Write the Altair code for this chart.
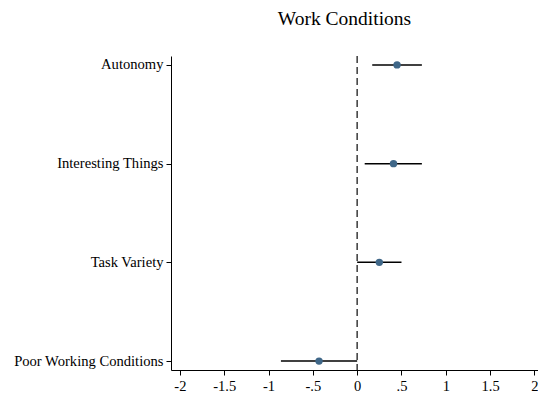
import altair as alt
import pandas as pd

categories = ["Autonomy", "Interesting Things", "Task Variety", "Poor Working Conditions"]
estimates = [0.45, 0.41, 0.25, -0.43]
ci_low = [0.17, 0.085, 0.0, -0.86]
ci_high = [0.73, 0.73, 0.50, 0.0]
x_ticks = [-2, -1.5, -1, -0.5, 0, 0.5, 1, 1.5, 2]

df = pd.DataFrame({"cat": categories, "est": estimates, "lo": ci_low, "hi": ci_high})
zero = pd.DataFrame({"z": [0]})

FONT = "Liberation Serif"

xscale = alt.Scale(domain=[-2.1, 2.04], nice=False, zero=False)
yscale = alt.Scale(type="point", padding=0.09, domain=categories)

yaxis = alt.Axis(title=None, domainColor="black", tickColor="black", tickSize=5,
                 labelFont=FONT, labelFontSize=14.6, labelColor="black", labelPadding=3,
                 labelLimit=300, grid=False, domainWidth=1)
xaxis = alt.Axis(title=None, values=x_ticks, domainColor="black", tickColor="black", tickSize=5,
                 labelFont=FONT, labelFontSize=14.5, labelColor="black", labelPadding=4,
                 grid=False, labelExpr="replace(toString(datum.value), '0.', '.')",
                 domainWidth=1)

base = alt.Chart(df)

ref = alt.Chart(zero).mark_rule(color="#3a3a3a", strokeDash=[7, 4], strokeWidth=1.5).encode(
    x=alt.X("z:Q", scale=xscale, axis=xaxis)
)

ci = base.mark_rule(color="black", strokeWidth=1.5).encode(
    x=alt.X("lo:Q", scale=xscale, axis=xaxis),
    x2="hi:Q",
    y=alt.Y("cat:N", scale=yscale, axis=yaxis, sort=categories),
)

pts = base.mark_circle(color="#3f6788", opacity=1, size=55).encode(
    x=alt.X("est:Q", scale=xscale, axis=xaxis),
    y=alt.Y("cat:N", scale=yscale, axis=yaxis, sort=categories),
)

chart = alt.layer(ref, ci, pts).properties(
    width=530,
    height=385,
    autosize=alt.AutoSizeParams(type="fit", contains="padding"),
    background="white",
    title=alt.TitleParams("Work Conditions", font=FONT, fontSize=19.5, fontWeight="normal",
                          color="black", anchor="middle", dx=-10, offset=26),
    padding={"left": 5, "top": 0, "right": 0, "bottom": 0},
).configure_view(strokeWidth=0, stroke="transparent")

chart.save("out.html", embed_options={"renderer": "svg", "actions": False})
